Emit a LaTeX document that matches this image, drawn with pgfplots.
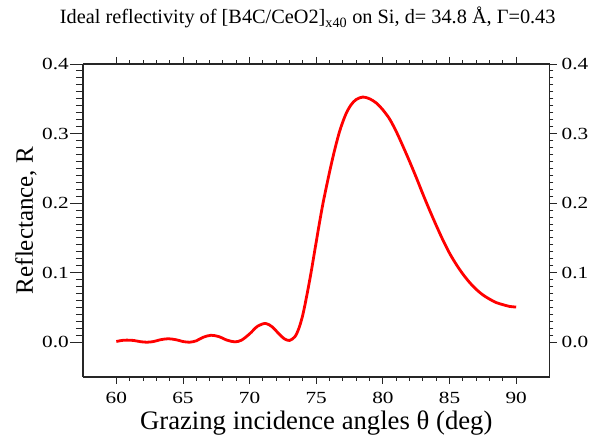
\documentclass[border=0pt]{standalone}
\usepackage{fontspec}
\setmainfont{Liberation Serif}
\newfontfamily\tickfont[FakeStretch=1.25]{Liberation Serif}
\usepackage{pgfplots}
\pgfplotsset{compat=1.18}
\pgfplotsset{
  common/.style={
    scale only axis, width=466.5pt, height=313pt,
    xmin=57.5, xmax=92.5, ymin=-0.05, ymax=0.4,
    xtick={60,65,70,75,80,85,90}, ytick={0,0.1,0.2,0.3,0.4},
    minor x tick num=4, minor y tick num=9,
    tick align=outside, major tick length=7pt, minor tick length=3.8pt,
    axis line style={line width=1.1pt, black!85},
    every tick/.style={black!85, line width=0.9pt},
    every minor tick/.style={black!85, line width=0.9pt},
    /pgf/number format/assume math mode=true,
    tick label style={font=\tickfont\fontsize{17}{17}\selectfont, inner sep=0pt},
    yticklabel style={/pgf/number format/fixed, /pgf/number format/fixed zerofill, /pgf/number format/precision=1},
  }
}
\begin{document}
\begin{tikzpicture}
% x axis (bottom and top) with the curve, title and x label
\begin{axis}[common,
  axis x line*=box, axis y line=none,
  xticklabel style={anchor=base, yshift=-19.5pt},
  xlabel={Grazing incidence angles θ (deg)},
  xlabel style={font=\fontsize{26.7}{26.7}\selectfont, at={(axis description cs:0.5,0)}, anchor=base, yshift=-52.5pt},
  title={Ideal reflectivity of [B4C/CeO2]\textsubscript{x40} on Si, d= 34.8 Å, Γ=0.43},
  title style={font=\fontsize{20.3}{20.3}\selectfont, at={(axis description cs:0.5,1)}, anchor=base, yshift=34pt, xshift=-8.5pt},
]
\coordinate (SW) at (rel axis cs:0,0);
\coordinate (NE) at (rel axis cs:1,1);
\addplot[red, line width=2.8pt, smooth, tension=0.5] coordinates {
(60.0,0.001) (60.4,0.0025) (60.8,0.003) (61.3,0.0025) (61.8,0.0008) (62.3,0.0)
(62.8,0.001) (63.3,0.0035) (63.9,0.005) (64.5,0.0035) (65.0,0.001) (65.5,0.0)
(66.0,0.002) (66.5,0.007) (67.1,0.010) (67.7,0.008) (68.3,0.003) (68.9,0.0005)
(69.4,0.003) (70.0,0.012) (70.6,0.023) (71.2,0.027) (71.7,0.022) (72.2,0.012)
(72.6,0.005) (73.0,0.0025) (73.4,0.008) (73.7,0.020) (74.0,0.040) (74.3,0.068)
(74.6,0.099) (74.9,0.133) (75.2,0.167) (75.5,0.199) (75.9,0.236) (76.3,0.270)
(76.75,0.303) (77.2,0.327) (77.6,0.341) (78.0,0.349) (78.5,0.3525) (79.0,0.350)
(79.5,0.344) (80.0,0.334) (80.5,0.321) (81.0,0.303) (81.5,0.282) (82.0,0.260)
(82.5,0.237) (83.0,0.213) (83.5,0.190) (84.0,0.168) (84.5,0.147) (85.0,0.128)
(85.5,0.112) (86.0,0.098) (86.5,0.086) (87.0,0.076) (87.5,0.068) (88.0,0.062)
(88.5,0.057) (89.0,0.054) (89.5,0.0515) (90.0,0.0505)
};
\end{axis}
% left y axis with longer ticks and the y label
\begin{axis}[common,
  axis y line*=left, axis x line=none,
  major tick length=13pt, minor tick length=7pt,
  yticklabel style={anchor=east, xshift=-1pt},
  ylabel={Reflectance, R},
  ylabel style={font=\fontsize{25}{25}\selectfont, at={(axis description cs:-0.1072,0.5)}, anchor=base},
]
\end{axis}
% right y axis
\begin{axis}[common,
  axis y line*=right, axis x line=none,
  yticklabel style={anchor=west, xshift=5pt},
]
\end{axis}
\pgfresetboundingbox
\path[use as bounding box] ([xshift=-83pt,yshift=-59pt]SW) rectangle ([xshift=40.5pt,yshift=64pt]NE);
\end{tikzpicture}
\end{document}
